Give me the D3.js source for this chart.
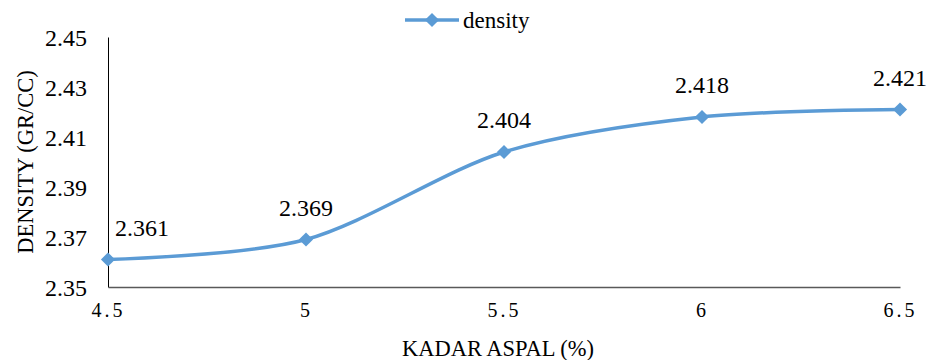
<!DOCTYPE html>
<html>
<head>
<meta charset="utf-8">
<script src="https://cdn.jsdelivr.net/npm/d3@7"></script>
<style>
  body { margin: 0; background: #fff; }
</style>
</head>
<body>
<div id="chart"></div>
<script>
// chart data
var kadar = ["4.5", "5", "5.5", "6", "6.5"];
var density = [2.361, 2.369, 2.404, 2.418, 2.421];
var yTicks = [2.35, 2.37, 2.39, 2.41, 2.43, 2.45];
var seriesName = "density";

var W = 930, H = 360;
var margin = {top: 37, right: 30, bottom: 73, left: 108};
var width = W - margin.left - margin.right,
    height = H - margin.top - margin.bottom;
var blue = "#5B9BD5";
var serif = "'Liberation Serif', 'Times New Roman', Times, 'DejaVu Serif', serif";

var svg = d3.select("#chart").append("svg")
    .attr("width", W)
    .attr("height", H)
    .attr("font-family", serif);

var g = svg.append("g")
    .attr("transform", "translate(" + margin.left + "," + margin.top + ")");

var x = d3.scalePoint().domain(kadar).range([0, width]);
var y = d3.scaleLinear().domain([2.35, 2.45]).range([height, 0]);

// y axis
var yAxis = g.append("g")
    .call(d3.axisLeft(y).tickValues(yTicks).tickSize(0).tickPadding(21)
      .tickFormat(d3.format(".2f")))
    .attr("font-family", serif);
yAxis.select(".domain").attr("stroke", "#000").attr("stroke-width", 1);
yAxis.selectAll("text")
    .attr("fill", "#000")
    .style("font-size", "24px")
    .attr("dy", "0.35em");

// x axis
var xAxis = g.append("g")
    .attr("transform", "translate(0," + height + ")")
    .call(d3.axisBottom(x).tickSize(0).tickPadding(16))
    .attr("font-family", serif);
xAxis.select(".domain").attr("stroke", "#595959").attr("stroke-width", 1.5);
xAxis.selectAll("text")
    .attr("fill", "#000")
    .style("font-size", "20px")
    .style("letter-spacing", "3px")
    .attr("dy", "0.71em");

// line
var line = d3.line()
    .x(function(d, i) { return x(kadar[i]); })
    .y(function(d) { return y(d); })
    .curve(d3.curveCardinal.tension(0.1));

g.append("path")
    .datum(density)
    .attr("fill", "none")
    .attr("stroke", blue)
    .attr("stroke-width", 3.5)
    .attr("d", line);

// diamond = square rotated 45 deg
var diamond = d3.symbol().type(d3.symbolSquare).size(100);

g.selectAll(".pt")
    .data(density)
    .enter().append("path")
    .attr("class", "pt")
    .attr("fill", blue)
    .attr("d", diamond)
    .attr("transform", function(d, i) {
      return "translate(" + x(kadar[i]) + "," + y(d) + ") rotate(45)";
    });

// data labels
g.selectAll(".lbl")
    .data(density)
    .enter().append("text")
    .attr("class", "lbl")
    .attr("x", function(d, i) { return i === 0 ? x(kadar[i]) + 7 : x(kadar[i]); })
    .attr("y", function(d) { return y(d) - 24; })
    .attr("text-anchor", function(d, i) { return i === 0 ? "start" : "middle"; })
    .style("font-size", "24px")
    .text(function(d) { return d3.format(".3f")(d); });

// axis titles
svg.append("text")
    .attr("x", margin.left + width / 2 - 6)
    .attr("y", 356)
    .attr("text-anchor", "middle")
    .style("font-size", "22.5px")
    .text("KADAR ASPAL (%)");

svg.append("text")
    .attr("transform", "translate(33," + (margin.top + height / 2) + ") rotate(-90)")
    .attr("text-anchor", "middle")
    .style("font-size", "22.5px")
    .text("DENSITY (GR/CC)");

// legend
var leg = svg.append("g").attr("transform", "translate(405,20)");
leg.append("line")
    .attr("x1", 0).attr("x2", 54)
    .attr("stroke", blue).attr("stroke-width", 3.5);
leg.append("path")
    .attr("d", diamond)
    .attr("fill", blue)
    .attr("transform", "translate(27,0) rotate(45)");
leg.append("text")
    .attr("x", 58)
    .attr("y", 8)
    .style("font-size", "23px")
    .text(seriesName);
</script>
</body>
</html>
